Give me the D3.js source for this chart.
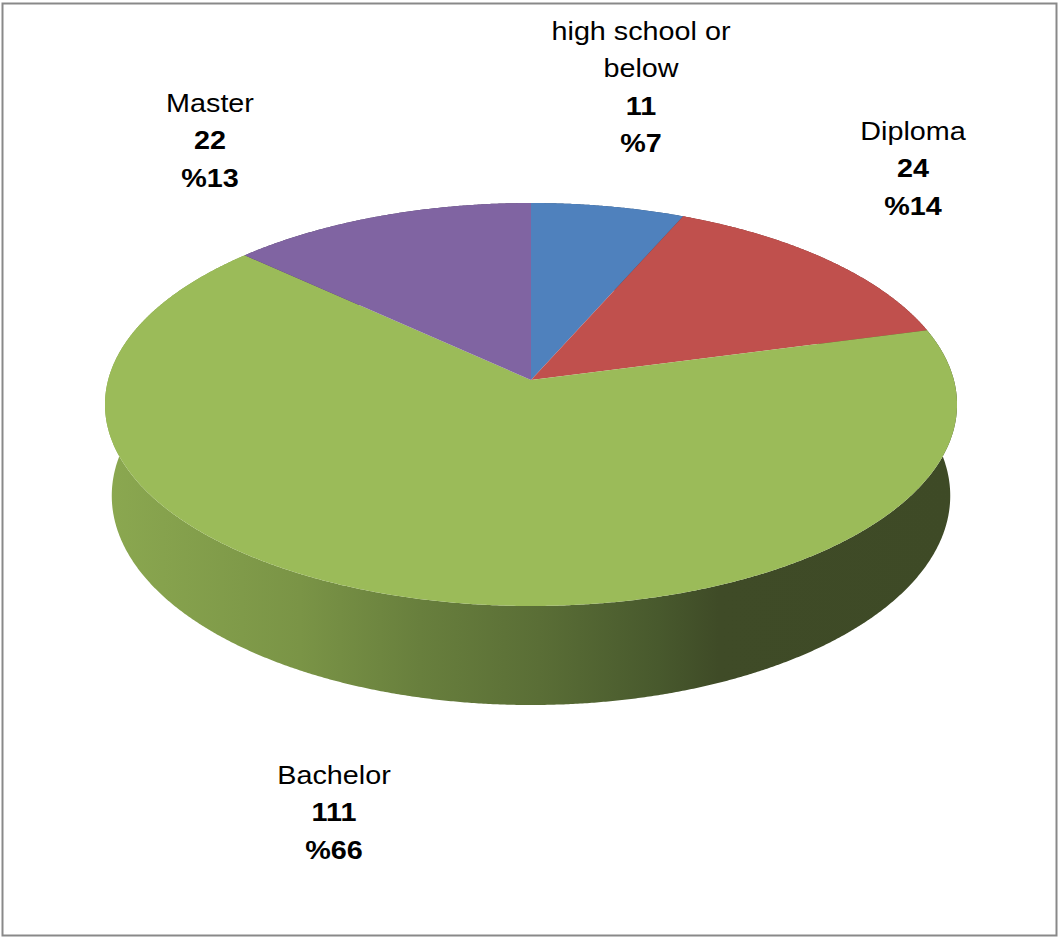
<!DOCTYPE html>
<html>
<head>
<meta charset="utf-8">
<script src="https://cdn.jsdelivr.net/npm/d3@7"></script>
<style>
  html, body { margin: 0; padding: 0; background: #ffffff; }
  svg { display: block; }
</style>
</head>
<body>
<svg id="chart" width="1059" height="937"></svg>
<script>
// Education level of respondents
const categories = ["high school or below", "Diploma", "Bachelor", "Master"];
const counts = [11, 24, 111, 22];
const labelLines = [["high school or", "below"], ["Diploma"], ["Bachelor"], ["Master"]];

// Styling and layout
const topColors = ["#4f81bd", "#c0504d", "#9bbb59", "#8064a2"];
const wallColors = ["#2f4d71", "#73302e", "#5d7035", "#4c3c61"];
const labelAnchors = [[641, 40], [913, 140], [334, 784], [210, 112]];

const svg = d3.select("#chart");
const W = 1059, H = 937;

// Chart frame
svg.append("rect")
  .attr("x", 2.5).attr("y", 3.5)
  .attr("width", W - 5).attr("height", H - 5)
  .attr("fill", "#ffffff")
  .attr("stroke", "#898989")
  .attr("stroke-width", 2);

// Perspective camera for the 3D disc (unit radius, depth below the top face)
const view = { cx: 531, cy: 380, f: 3070, dist: 7.26, tilt: 28 * Math.PI / 180, depth: 0.2468 };
function project(x, y, z) {
  const c = Math.cos(view.tilt), s = Math.sin(view.tilt);
  const Y = y * c + z * s;
  const Wd = view.dist + z * c - y * s;
  return [view.cx + view.f * x / Wd, view.cy - view.f * Y / Wd];
}
function rimPoint(theta, y) {
  return project(Math.sin(theta), y, Math.cos(theta));
}
function arcPoints(a0, a1, y) {
  const n = Math.max(8, Math.ceil((a1 - a0) / 0.005));
  const pts = [];
  for (let i = 0; i <= n; i++) pts.push(rimPoint(a0 + (a1 - a0) * i / n, y));
  return pts;
}

const pie = d3.pie().sort(null).value(d => d).startAngle(0).endAngle(2 * Math.PI);
const arcs = pie(counts);
const total = d3.sum(counts);
const line = d3.line();

// Side-wall shading: lit from the left, darkening to the right
const defs = svg.append("defs");
const grad = defs.append("linearGradient")
  .attr("id", "wallShade")
  .attr("gradientUnits", "userSpaceOnUse")
  .attr("x1", 105).attr("y1", 0).attr("x2", 957).attr("y2", 0);
[
  [0.000, "#8ba850"],
  [0.229, "#7a9446"],
  [0.370, "#687f3d"],
  [0.510, "#5a6e36"],
  [0.650, "#48592d"],
  [0.720, "#3f4b27"],
  [1.000, "#3e4a26"]
].forEach(([o, c]) => grad.append("stop").attr("offset", o).attr("stop-color", c));

// Outer walls first, then top faces over them
const walls = svg.append("g");
arcs.forEach((a, i) => {
  const top = arcPoints(a.startAngle, a.endAngle, 0);
  const bottom = arcPoints(a.startAngle, a.endAngle, -view.depth).reverse();
  walls.append("path")
    .attr("d", line(top.concat(bottom)) + "Z")
    .attr("fill", i === 2 ? "url(#wallShade)" : wallColors[i]);
});

const tops = svg.append("g");
arcs.forEach((a, i) => {
  const pts = [project(0, 0, 0)].concat(arcPoints(a.startAngle, a.endAngle, 0));
  tops.append("path")
    .attr("d", line(pts) + "Z")
    .attr("fill", topColors[i]);
});

// Data labels: name, count, percent
const lineGap = 37.3;
const labels = svg.append("g")
  .attr("font-family", "'Liberation Sans', Arial, sans-serif")
  .attr("font-size", 25)
  .attr("fill", "#000000")
  .attr("text-anchor", "middle");

arcs.forEach((a, i) => {
  const [lx, ly] = labelAnchors[i];
  const pct = Math.round(a.value / total * 100);
  const rows = labelLines[i].map(t => ({ t, bold: false }))
    .concat([{ t: String(a.value), bold: true }, { t: "%" + pct, bold: true }]);
  const g = labels.append("g").attr("transform", `translate(${lx},${ly}) scale(1.15,1)`);
  rows.forEach((r, k) => {
    g.append("text")
      .attr("x", 0)
      .attr("y", k * lineGap)
      .attr("font-weight", r.bold ? "bold" : "normal")
      .text(r.t);
  });
});
</script>
</body>
</html>
